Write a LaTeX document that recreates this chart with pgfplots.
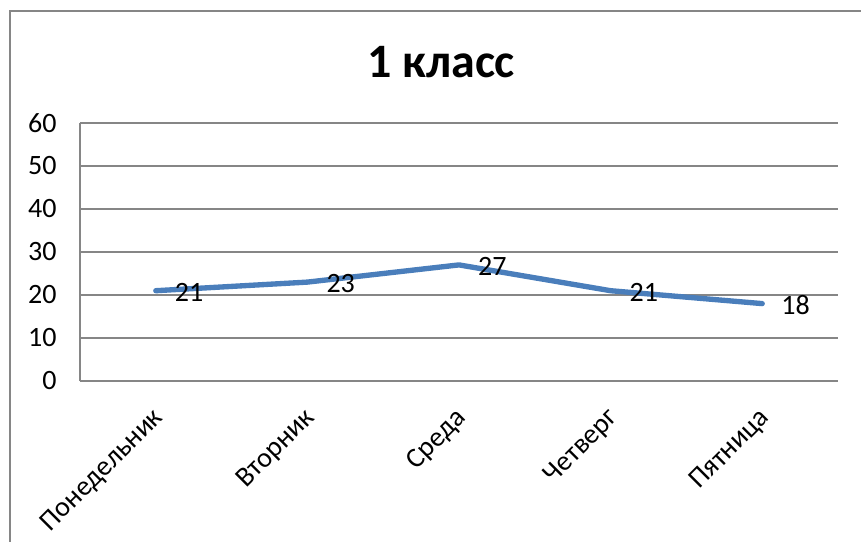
\documentclass[border=0pt]{standalone}
\usepackage{pgfplots}
\pgfplotsset{compat=1.18}
\usepackage{fontspec}
\setmainfont{Carlito}
\definecolor{linec}{HTML}{4A7EBB}
\definecolor{gridc}{HTML}{868686}
\begin{document}
\begin{tikzpicture}
\begin{scope}[x=0.75pt,y=-0.75pt]
\useasboundingbox (0,0) rectangle (861,542);
\draw[gridc, line width=1.5pt] (10,560) -- (10,11) -- (880,11);
\node[font=\fontsize{36}{42}\selectfont\bfseries] at (441,62) {1 класс};
\end{scope}
\begin{axis}[
  at={(60pt,-285.75pt)}, anchor=south west,
  scale only axis, width=568.5pt, height=193.5pt,
  xmin=-0.5, xmax=4.5, ymin=0, ymax=60,
  ytick={0,10,...,60},
  xtick={0,1,2,3,4},
  xticklabels={Понедельник,Вторник,Среда,Четверг,Пятница},
  major tick length=0pt,
  axis line style={gridc, line width=1.2pt},
  axis x line*=bottom, axis y line*=left,
  ymajorgrids, grid style={gridc, line width=1.2pt},
  font=\fontsize{21}{24}\selectfont,
  /pgf/number format/assume math mode=true,
  yticklabel style={xshift=-14pt},
  xticklabel style={xshift=5pt, yshift=-22.5pt, rotate=45, anchor=east},
  clip=false,
]
\addplot[linec, line width=4pt, line join=round, line cap=round,
  nodes near coords,
  every node near coord/.append style={anchor=west, xshift=9pt, yshift=-1pt, text=black, font=\fontsize{21}{24}\selectfont},
  point meta=explicit symbolic]
  coordinates {(0,21) [21] (1,23) [23] (2,27) [27] (3,21) [21] (4,18) [18]};
\end{axis}
\end{tikzpicture}
\end{document}
